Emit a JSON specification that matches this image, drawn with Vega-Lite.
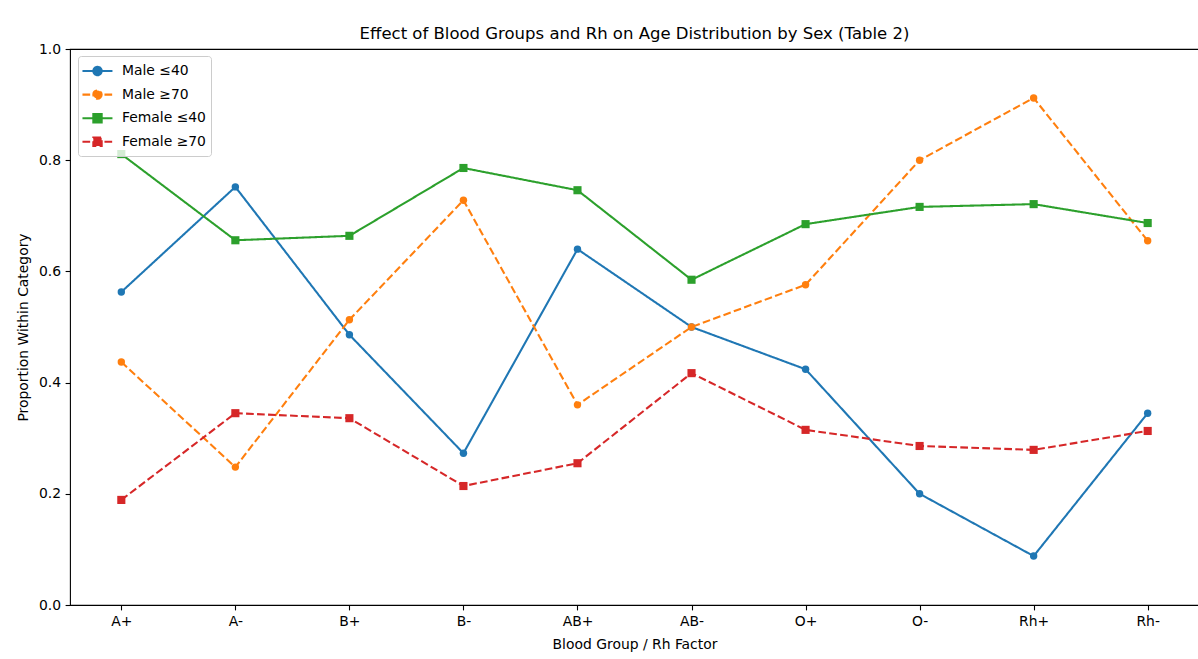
{
  "$schema": "https://vega.github.io/schema/vega-lite/v6.json",
  "autosize": "none",
  "width": 1129,
  "height": 556,
  "padding": {"left": 70, "top": 49, "right": 0, "bottom": 54},
  "background": "white",
  "title": {
    "text": "Effect of Blood Groups and Rh on Age Distribution by Sex (Table 2)",
    "font": "DejaVu Sans",
    "fontSize": 16.5,
    "fontWeight": "normal",
    "color": "#000000",
    "offset": 0,
    "anchor": "middle"
  },
  "config": {
    "view": {"stroke": "#000000", "strokeWidth": 1.1},
    "axis": {
      "labelFont": "DejaVu Sans",
      "labelFontSize": 13.9,
      "labelColor": "#000000",
      "titleFont": "DejaVu Sans",
      "titleFontSize": 13.9,
      "titleFontWeight": "normal",
      "titleColor": "#000000",
      "tickColor": "#000000",
      "tickSize": 4.9,
      "tickWidth": 1.1,
      "labelPadding": 4.5,
      "domain": false,
      "grid": false
    }
  },
  "data": {
    "values": [
      {"group": "A+", "series": "Male ≤40", "sex": "Male", "value": 0.563},
      {"group": "A-", "series": "Male ≤40", "sex": "Male", "value": 0.752},
      {"group": "B+", "series": "Male ≤40", "sex": "Male", "value": 0.486},
      {"group": "B-", "series": "Male ≤40", "sex": "Male", "value": 0.273},
      {"group": "AB+", "series": "Male ≤40", "sex": "Male", "value": 0.640},
      {"group": "AB-", "series": "Male ≤40", "sex": "Male", "value": 0.500},
      {"group": "O+", "series": "Male ≤40", "sex": "Male", "value": 0.424},
      {"group": "O-", "series": "Male ≤40", "sex": "Male", "value": 0.200},
      {"group": "Rh+", "series": "Male ≤40", "sex": "Male", "value": 0.088},
      {"group": "Rh-", "series": "Male ≤40", "sex": "Male", "value": 0.345},
      {"group": "A+", "series": "Male ≥70", "sex": "Male", "value": 0.437},
      {"group": "A-", "series": "Male ≥70", "sex": "Male", "value": 0.248},
      {"group": "B+", "series": "Male ≥70", "sex": "Male", "value": 0.513},
      {"group": "B-", "series": "Male ≥70", "sex": "Male", "value": 0.728},
      {"group": "AB+", "series": "Male ≥70", "sex": "Male", "value": 0.360},
      {"group": "AB-", "series": "Male ≥70", "sex": "Male", "value": 0.500},
      {"group": "O+", "series": "Male ≥70", "sex": "Male", "value": 0.576},
      {"group": "O-", "series": "Male ≥70", "sex": "Male", "value": 0.800},
      {"group": "Rh+", "series": "Male ≥70", "sex": "Male", "value": 0.912},
      {"group": "Rh-", "series": "Male ≥70", "sex": "Male", "value": 0.655},
      {"group": "A+", "series": "Female ≤40", "sex": "Female", "value": 0.811},
      {"group": "A-", "series": "Female ≤40", "sex": "Female", "value": 0.656},
      {"group": "B+", "series": "Female ≤40", "sex": "Female", "value": 0.664},
      {"group": "B-", "series": "Female ≤40", "sex": "Female", "value": 0.786},
      {"group": "AB+", "series": "Female ≤40", "sex": "Female", "value": 0.746},
      {"group": "AB-", "series": "Female ≤40", "sex": "Female", "value": 0.585},
      {"group": "O+", "series": "Female ≤40", "sex": "Female", "value": 0.685},
      {"group": "O-", "series": "Female ≤40", "sex": "Female", "value": 0.716},
      {"group": "Rh+", "series": "Female ≤40", "sex": "Female", "value": 0.721},
      {"group": "Rh-", "series": "Female ≤40", "sex": "Female", "value": 0.687},
      {"group": "A+", "series": "Female ≥70", "sex": "Female", "value": 0.189},
      {"group": "A-", "series": "Female ≥70", "sex": "Female", "value": 0.345},
      {"group": "B+", "series": "Female ≥70", "sex": "Female", "value": 0.336},
      {"group": "B-", "series": "Female ≥70", "sex": "Female", "value": 0.214},
      {"group": "AB+", "series": "Female ≥70", "sex": "Female", "value": 0.255},
      {"group": "AB-", "series": "Female ≥70", "sex": "Female", "value": 0.417},
      {"group": "O+", "series": "Female ≥70", "sex": "Female", "value": 0.315},
      {"group": "O-", "series": "Female ≥70", "sex": "Female", "value": 0.286},
      {"group": "Rh+", "series": "Female ≥70", "sex": "Female", "value": 0.279},
      {"group": "Rh-", "series": "Female ≥70", "sex": "Female", "value": 0.313}
    ]
  },
  "encoding": {
    "x": {
      "field": "group",
      "type": "nominal",
      "sort": ["A+", "A-", "B+", "B-", "AB+", "AB-", "O+", "O-", "Rh+", "Rh-"],
      "scale": {"type": "point", "padding": 0.45},
      "axis": {"title": "Blood Group / Rh Factor", "labelAngle": 0, "titlePadding": 9}
    },
    "y": {
      "field": "value",
      "type": "quantitative",
      "scale": {"domain": [0, 1], "nice": false, "zero": true},
      "axis": {"title": "Proportion Within Category", "values": [0, 0.2, 0.4, 0.6, 0.8, 1.0], "format": ".1f", "titlePadding": 8}
    },
    "color": {
      "field": "series",
      "type": "nominal",
      "scale": {
        "domain": ["Male ≤40", "Male ≥70", "Female ≤40", "Female ≥70"],
        "range": ["#1f77b4", "#ff7f0e", "#2ca02c", "#d62728"]
      },
      "legend": {
        "title": null,
        "orient": "none",
        "legendX": 8,
        "legendY": 7,
        "fillColor": "rgba(255,255,255,0.8)",
        "strokeColor": "#cccccc",
        "cornerRadius": 3,
        "padding": 5,
        "labelFont": "DejaVu Sans",
        "labelFontSize": 13.9,
        "labelColor": "#000000",
        "symbolSize": 289,
        "symbolStrokeWidth": 2.08,
        "rowPadding": 4.6,
        "labelOffset": 19,
        "encode": {
          "symbols": {
            "update": {
              "shape": {"signal": "indexof(['Male ≤40','Male ≥70'], datum.value) >= 0 ? 'M-1.24,0H2.29M1.02,0A0.49,0.49,0,1,1,0.04,0A0.49,0.49,0,1,1,1.02,0Z' : 'M-1.24,0H2.29M0.04,-0.49H1.02V0.49H0.04Z'"},
              "strokeDash": {"signal": "indexof(['Male ≥70','Female ≥70'], datum.value) >= 0 ? [5.2, 2.3] : [1, 0]"},
              "fill": {"scale": "color", "field": "value"},
              "stroke": {"scale": "color", "field": "value"},
              "strokeWidth": {"value": 2.08},
              "size": {"value": 289},
              "opacity": {"value": 1}
            }
          }
        }
      }
    }
  },
  "layer": [
    {
      "mark": {"type": "line", "strokeWidth": 2.08},
      "encoding": {
        "strokeDash": {
          "field": "series",
          "type": "nominal",
          "scale": {
            "domain": ["Male ≤40", "Male ≥70", "Female ≤40", "Female ≥70"],
            "range": [[1, 0], [7.7, 3.3], [1, 0], [7.7, 3.3]]
          },
          "legend": null
        }
      }
    },
    {
      "transform": [{"filter": "datum.sex === 'Male'"}],
      "mark": {"type": "point", "shape": "circle", "size": 55, "filled": true, "opacity": 1, "strokeWidth": 1.4}
    },
    {
      "transform": [{"filter": "datum.sex === 'Female'"}],
      "mark": {"type": "point", "shape": "square", "size": 66, "filled": true, "opacity": 1, "strokeWidth": 1.4}
    }
  ]
}
